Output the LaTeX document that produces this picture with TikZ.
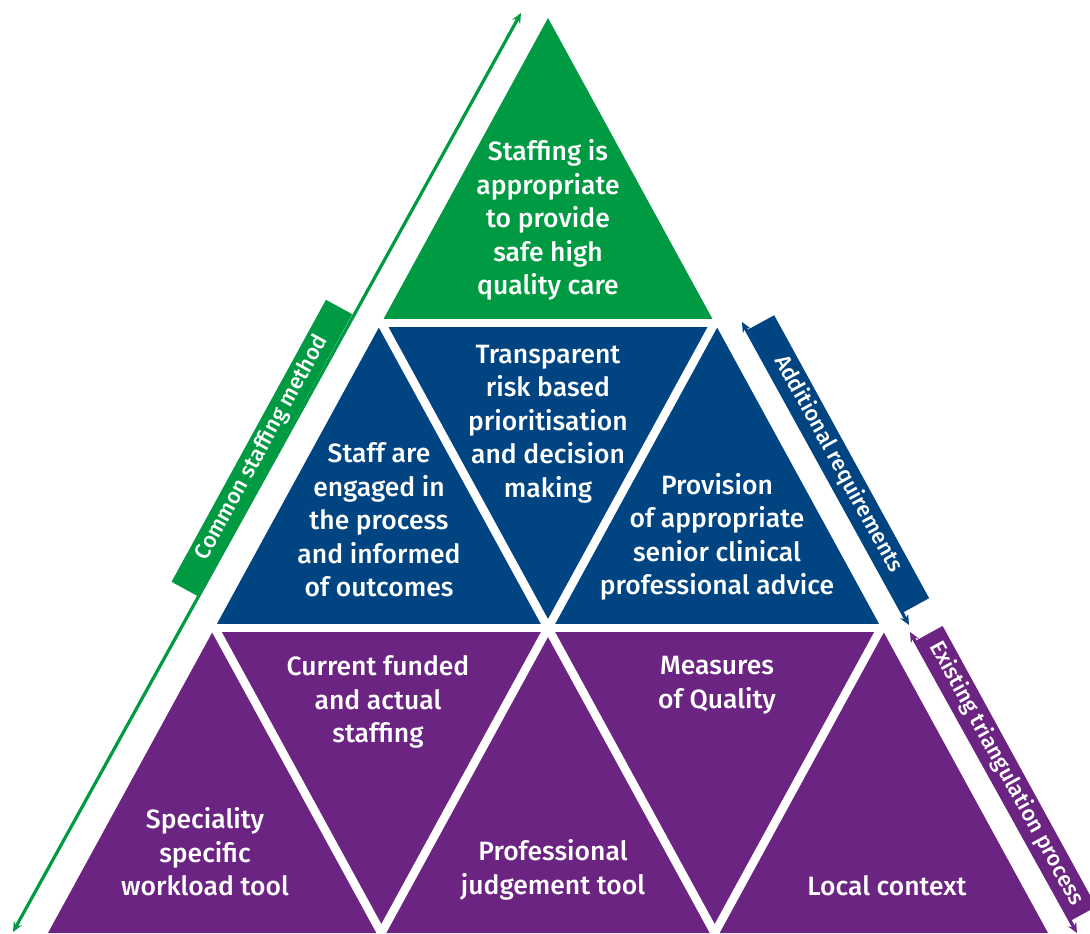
\documentclass[tikz,border=0pt]{standalone}
\usepackage{fontspec}
\setmainfont{Fira Sans}[BoldFont={Fira Sans Medium}]
\usepackage{tikz}
\usetikzlibrary{arrows.meta}
\tikzstyle{pyramid} = [x = 1pt, y = -1pt]
\definecolor{careGreen}{RGB}{0,154,66}
\definecolor{trustBlue}{RGB}{0,68,130}
\definecolor{basePurple}{RGB}{107,36,130}
\newcommand{\pieceFont}{\fontsize{26.5}{33.5}\selectfont\bfseries}
\newcommand{\barFont}{\fontsize{22}{26}\selectfont\bfseries}
\tikzstyle{gapStyle} = [color=white, line width=8.5pt, shorten <=-10pt, shorten >=-10pt]
\tikzstyle{pieceText} = [text=white, align=center, font=\pieceFont]
\tikzstyle{sideBarStyle} = [text=white, inner sep=0pt, minimum height=30pt, font=\barFont]
\tikzstyle{sideArrowStyle} = [line width=3.2pt, {Stealth[length=10pt, width=9pt]}-{Stealth[length=10pt, width=9pt]}]
\newcommand{\gapLine}[2]{\draw [gapStyle] (#1) -- (#2);}
\newcommand{\sideArrow}[3]{\draw [sideArrowStyle, color=#1] (#2) -- (#3);}
\newcommand{\sideLabel}[6]{\node [sideBarStyle, fill=#2, rotate=#4, minimum width=#5] (#1) at (#3) {#6};}
\begin{document}
\begin{tikzpicture}[pyramid]
  \useasboundingbox (0,0) rectangle (1090,934);
  \foreach \row in {0,...,3} {
    \foreach \col in {0,...,\row} {
      \coordinate (p\row\col) at ({548 - 500/3*\row + 1000/3*\col}, {18 + 305*\row});
    }
  }
  \fill [careGreen] (p00) -- (p10) -- (p11) -- cycle;
  \fill [trustBlue] (p10) -- (p11) -- (p22) -- (p20) -- cycle;
  \fill [basePurple] (p20) -- (p22) -- (p33) -- (p30) -- cycle;
  \gapLine{p10}{p11}
  \gapLine{p20}{p22}
  \gapLine{p31}{p11}
  \gapLine{p32}{p22}
  \gapLine{p32}{p10}
  \gapLine{p31}{p20}

  \node [pieceText] (safeCare) at (548,220) {Staffing is\\appropriate\\to provide\\safe high\\quality care};
  \node [pieceText] (riskDecision) at (548,424) {Transparent\\risk based\\prioritisation\\and decision\\making};
  \node [pieceText] (staffEngaged) at (379,520) {Staff are\\engaged in\\the process\\and informed\\of outcomes};
  \node [pieceText] (seniorAdvice) at (717,537) {Provision\\of appropriate\\senior clinical\\professional advice};
  \node [pieceText] (workloadTool) at (205,852) {Speciality\\specific\\workload tool};
  \node [pieceText] (fundedStaffing) at (378,702) {Current funded\\and actual\\staffing};
  \node [pieceText] (judgementTool) at (553,870) {Professional\\judgement tool};
  \node [pieceText] (qualityMeasures) at (717,685) {Measures\\of Quality};
  \node [pieceText] (localContext) at (887,886) {Local context};

  \coordinate (commonLow) at (13,932);
  \coordinate (commonHigh) at (521,13);
  \coordinate (additionalHigh) at (742,322);
  \coordinate (additionalLow) at (909,625);
  \coordinate (existingHigh) at (910,632);
  \coordinate (existingLow) at (1077,933);
  \sideArrow{careGreen}{commonLow}{commonHigh}
  \sideArrow{trustBlue}{additionalHigh}{additionalLow}
  \sideArrow{basePurple}{existingHigh}{existingLow}
  \sideLabel{commonBar}{careGreen}{261.9,448}{61.3}{321.5pt}{Common staffing method}
  \sideLabel{additionalBar}{trustBlue}{838.5,463.9}{-61.3}{322.6pt}{Additional requirements}
  \sideLabel{existingBar}{basePurple}{1006.3,773.5}{-61.3}{320pt}{Existing triangulation process}
\end{tikzpicture}
\end{document}
